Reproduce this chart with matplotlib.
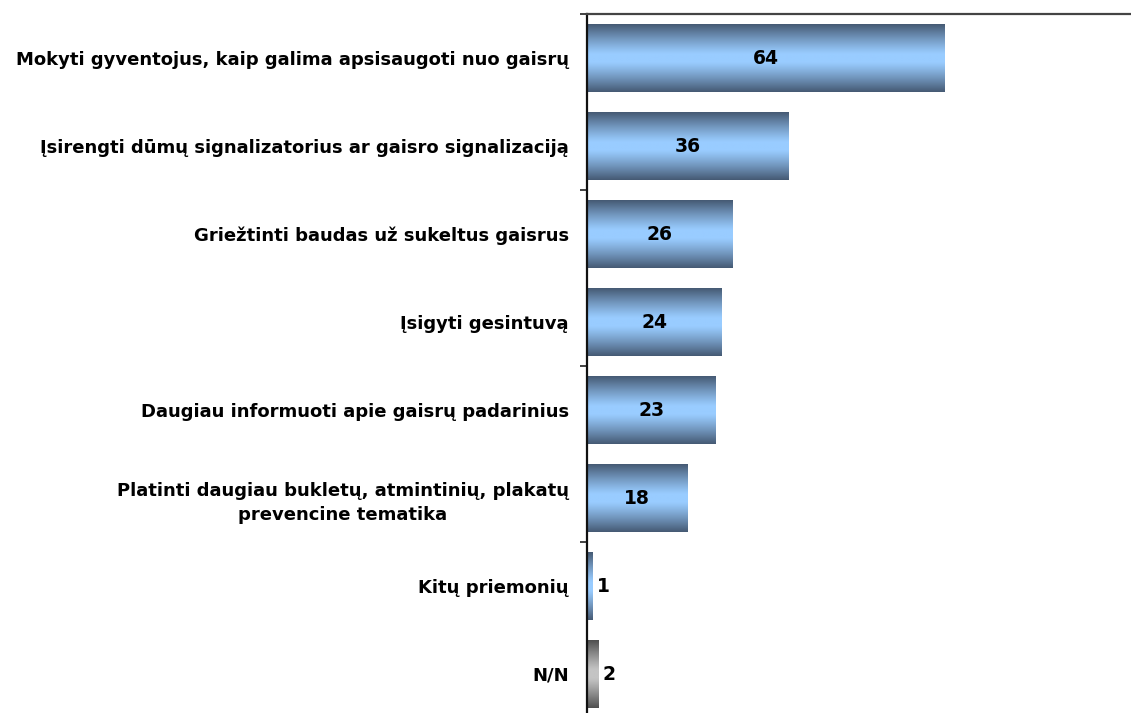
import numpy as np
import matplotlib
matplotlib.use("Agg")
import matplotlib.pyplot as plt
from matplotlib.colors import to_rgb

# ── Data ────────────────────────────────────────────────────────────────────
categories = [
    "Mokyti gyventojus, kaip galima apsisaugoti nuo gaisrų",
    "Įsirengti dūmų signalizatorius ar gaisro signalizaciją",
    "Griežtinti baudas už sukeltus gaisrus",
    "Įsigyti gesintuvą",
    "Daugiau informuoti apie gaisrų padarinius",
    "Platinti daugiau bukletų, atmintinių, plakatų\nprevencine tematika",
    "Kitų priemonių",
    "N/N",
]
values = [64, 36, 26, 24, 23, 18, 1, 2]
is_nn = [False, False, False, False, False, False, False, True]

BLUE_EDGE, BLUE_MID = "#465b75", "#99ccff"
GRAY_EDGE, GRAY_MID = "#505050", "#c4c4c4"


def gradient(edge, mid, n=64):
    """Vertical gradient: dark at top/bottom, light in the middle."""
    t = np.abs(np.linspace(-1, 1, n))
    w = np.clip((t - 0.12) / 0.88, 0, 1) ** 1.15
    e, m = np.array(to_rgb(edge)), np.array(to_rgb(mid))
    return (m[None, :] * (1 - w[:, None]) + e[None, :] * w[:, None])[:, None, :]


fig = plt.figure(figsize=(11.31, 7.13), dpi=100)
ax = fig.add_axes([587 / 1131, -5 / 713, 1 - 587 / 1131, 704 / 713])

y = np.arange(len(categories))
h = 0.77
bars = ax.barh(y, values, height=h, color="none", edgecolor="none")
for bar, v, yi, nn in zip(bars, values, y, is_nn):
    grad = gradient(GRAY_EDGE, GRAY_MID) if nn else gradient(BLUE_EDGE, BLUE_MID)
    im = ax.imshow(grad, extent=[0, v, yi + h / 2, yi - h / 2], aspect="auto",
                   interpolation="bilinear", zorder=2)
    im.set_clip_path(bar)
    if v >= 10:
        ax.text(v / 2, yi, str(v), ha="center", va="center", fontsize=13.5,
                fontweight="bold", zorder=3)
    else:
        ax.text(v + 0.7, yi, str(v), ha="left", va="center", fontsize=13.5,
                fontweight="bold", zorder=3)

ax.set_xlim(0, 97.3)
ax.set_ylim(len(categories) - 0.5, -0.5)

ax.set_yticks(y)
ax.set_yticklabels(categories, fontsize=13, fontweight="bold",
                   multialignment="center", linespacing=1.45)
ax.tick_params(axis="y", which="major", length=0, pad=13)
ax.set_yticks([-0.5, 1.5, 3.5, 5.5], minor=True)
ax.tick_params(axis="y", which="minor", length=5, width=1.2, color="#222222")
ax.set_xticks([])

for s in ("right", "bottom"):
    ax.spines[s].set_visible(False)
ax.spines["left"].set_linewidth(1.6)
ax.spines["left"].set_color("#111111")
ax.spines["top"].set_linewidth(1.6)
ax.spines["top"].set_color("#444444")

fig.savefig("out.png", dpi=100)
